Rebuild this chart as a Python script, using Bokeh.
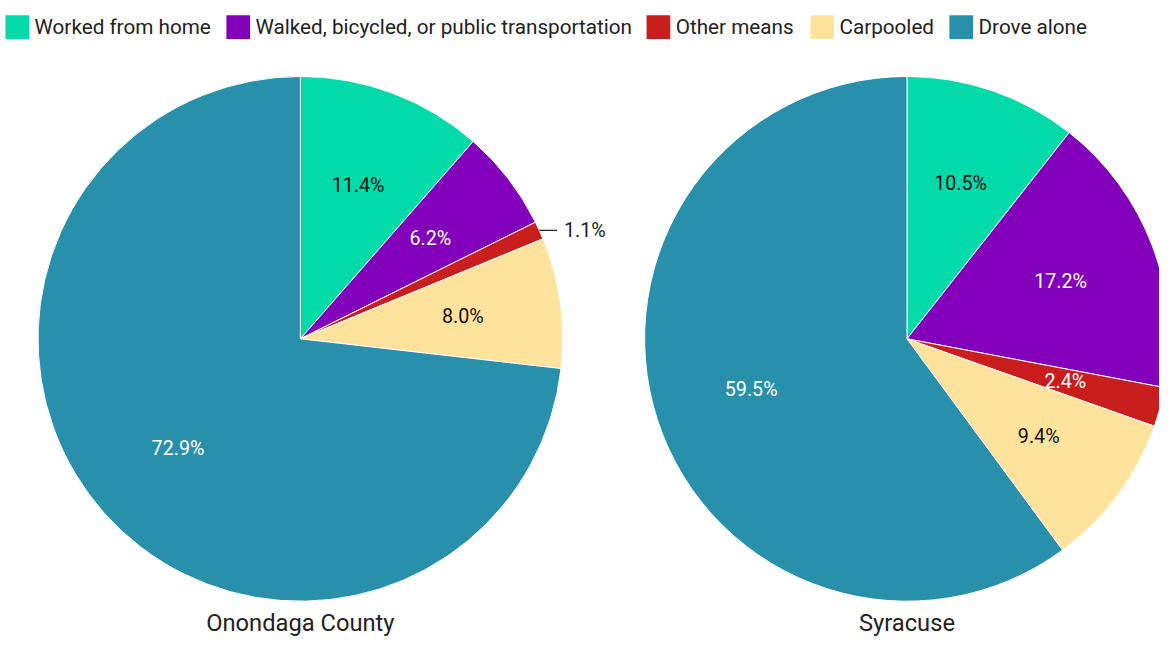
import math
from bokeh.plotting import figure
from bokeh.models import Range1d, ColumnDataSource
from bokeh.core.properties import value
from bokeh.embed import file_html
from bokeh.resources import INLINE

# ---- data ----
categories = ["Worked from home", "Walked, bicycled, or public transportation",
              "Other means", "Carpooled", "Drove alone"]
onondaga = [11.4, 6.2, 1.1, 8.0, 72.9]
syracuse = [10.5, 17.2, 2.4, 9.4, 59.5]
pie_titles = ["Onondaga County", "Syracuse"]
colors = ["#02DBA9", "#8200B9", "#C91E1E", "#FFE29C", "#2990AC"]
label_colors = ["#111111", "#FFFFFF", "#FFFFFF", "#111111", "#FFFFFF"]

# ---- layout (reference pixel space, y measured down from top of 654px image) ----
W, H = 1159, 638
S = W / 1175.0
YSPAN = H / S
FONT = "Roboto"

def Y(yref):
    return 654.0 - yref

p = figure(width=W, height=H, output_backend="svg", toolbar_location=None,
           x_range=Range1d(0, 1175), y_range=Range1d(654 - YSPAN, 654),
           min_border=0, outline_line_color=None)
p.axis.visible = False
p.grid.visible = False
p.background_fill_color = "white"
p.border_fill_color = "white"

R = 266.0
centers = [(304.0, 343.0), (919.0, 343.0)]

for (cx, cyref), vals, title in zip(centers, [onondaga, syracuse], pie_titles):
    total = sum(vals)
    cum = 0.0
    starts, ends, mids = [], [], []
    for v in vals:
        a0 = math.pi / 2 - 2 * math.pi * cum / total
        cum += v
        a1 = math.pi / 2 - 2 * math.pi * cum / total
        starts.append(a0); ends.append(a1); mids.append((a0 + a1) / 2)
    cy = Y(cyref)
    src = ColumnDataSource(dict(start=starts, end=ends, color=colors))
    p.wedge(x=cx, y=cy, radius=R, start_angle="start", end_angle="end",
            direction="clock", fill_color="color", line_color="white",
            line_width=1, source=src)
    # labels
    in_x, in_y, in_t, in_c = [], [], [], []
    for v, m, lc in zip(vals, mids, label_colors):
        txt = f"{v:.1f}%"
        if v < 2:
            ex, ey = cx + R * math.cos(m), cy + R * math.sin(m)
            p.segment(x0=[ex], y0=[ey], x1=[ex + 18], y1=[ey], line_color="#222222", line_width=1.2)
            p.text(x=[ex + 25], y=[ey], text=[txt], text_font=value(FONT),
                   text_font_size=f"{20*S:.1f}px", text_color="#222222",
                   text_align="left", text_baseline="middle")
        else:
            rl = 0.625 * R
            in_x.append(cx + rl * math.cos(m)); in_y.append(cy + rl * math.sin(m))
            in_t.append(txt); in_c.append(lc)
    p.text(x=in_x, y=in_y, text=in_t, text_color=in_c, text_font=value(FONT),
           text_font_size=f"{20*S:.1f}px", text_align="center", text_baseline="middle")
    p.text(x=[cx], y=[Y(631)], text=[title], text_font=value(FONT),
           text_font_size=f"{24*S:.1f}px", text_color="#222222",
           text_align="center", text_baseline="middle")

# ---- legend ----
leg_left = [5, 229, 655, 821, 962]
sw = 24
p.rect(x=[l + sw / 2 for l in leg_left], y=[Y(27)] * 5, width=sw, height=24,
       fill_color=colors, line_color=None)
p.text(x=[l + 29.5 for l in leg_left], y=[Y(27)] * 5, text=categories,
       text_font=value(FONT), text_font_size=f"{21*S:.1f}px", text_color="#222222",
       text_align="left", text_baseline="middle")

open("out.html", "w").write(file_html(p, INLINE))
